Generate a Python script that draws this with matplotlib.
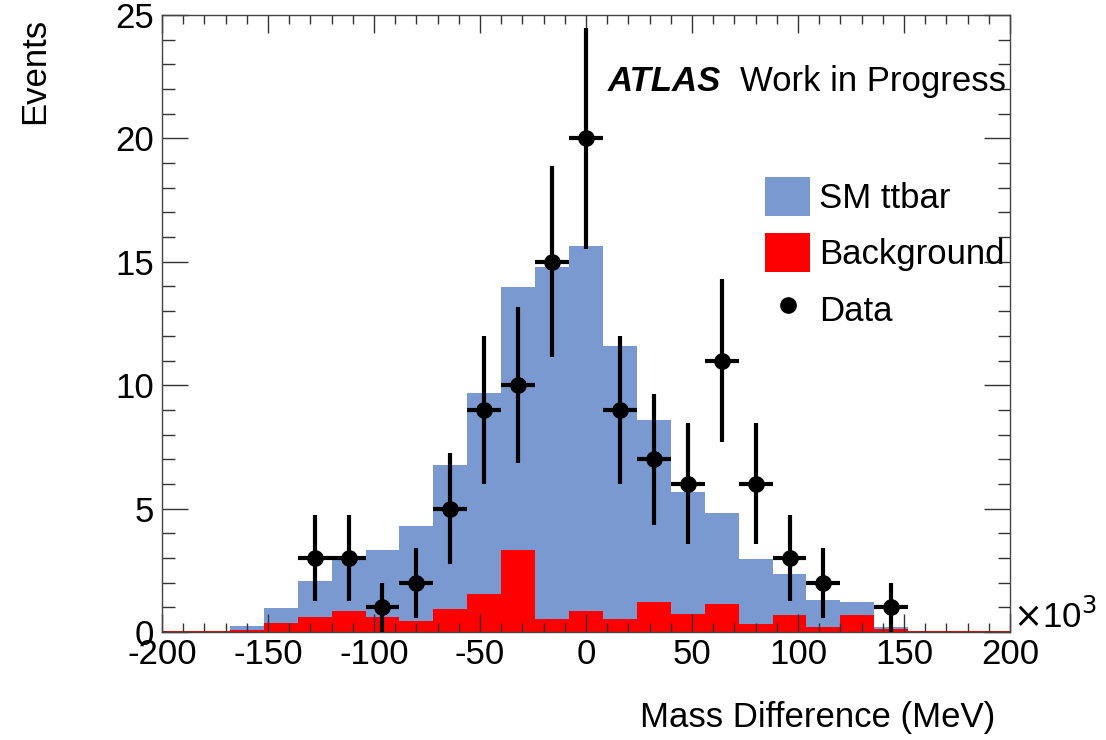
import numpy as np
import matplotlib.pyplot as plt
from matplotlib.patches import Patch
from matplotlib.lines import Line2D

plt.rcParams['font.family'] = ['Liberation Sans', 'DejaVu Sans']
plt.rcParams['axes.unicode_minus'] = False

# binning (x10^3 MeV), 25 bins of 16
edges = np.linspace(-200, 200, 26)

# stacked total (SM ttbar on top of background)
total = [0.0, 0.0, 0.26, 0.99, 2.06, 2.9, 3.31, 4.31, 6.76, 9.67, 13.99, 14.8, 15.62,
         11.57, 8.59, 5.67, 4.81, 2.97, 2.36, 1.28, 1.21, 0.22, 0.0, 0.0, 0.0]
background = [0.03, 0.03, 0.1, 0.38, 0.6, 0.86, 0.6, 0.46, 0.94, 1.54, 3.31, 0.53, 0.87,
              0.53, 1.21, 0.74, 1.14, 0.33, 0.67, 0.22, 0.67, 0.12, 0.03, 0.03, 0.03]

# data points
data_x = [-128, -112, -96, -80, -64, -48, -32, -16, 0, 16, 32, 48, 64, 80, 96, 112, 144]
data_y = [3, 3, 1, 2, 5, 9, 10, 15, 20, 9, 7, 6, 11, 6, 3, 2, 1]

blue = '#7b99d1'
red = '#ff0000'
fs = 25

fig = plt.figure(figsize=(11.06, 7.4), dpi=100)
ax = fig.add_axes([162/1106, 108/740, 848/1106, 617/740])

ax.stairs(total, edges, fill=True, color=blue, lw=0)
ax.stairs(background, edges, fill=True, color=red, lw=0)

dy = np.sqrt(data_y)
ax.errorbar(data_x, data_y, xerr=8, yerr=dy, fmt='o', color='black', ms=11,
            elinewidth=3, capsize=0, zorder=5)

ax.set_xlim(-200, 200)
ax.set_ylim(0, 25)
ax.set_xticks(np.arange(-200, 201, 50))
ax.set_xticks(np.arange(-200, 201, 10), minor=True)
ax.set_yticks(np.arange(0, 26, 5))
ax.set_yticks(np.arange(0, 26, 1), minor=True)
ax.tick_params(axis='both', which='both', direction='in', top=True, right=True,
               labelsize=fs, width=1.0, color='#333333')
ax.tick_params(axis='x', which='major', length=13, pad=4)
ax.tick_params(axis='x', which='minor', length=6.5)
ax.tick_params(axis='y', which='major', length=19, pad=6)
ax.tick_params(axis='y', which='minor', length=9)
for s in ax.spines.values():
    s.set_linewidth(1.0)
    s.set_color('#444444')

ax.text(1.004, -0.005, r'$\times$10$^3$', transform=ax.transAxes, fontsize=fs,
        ha='left', va='bottom')

fig.text(995/1106, 1 - 718/740, 'Mass Difference (MeV)', fontsize=fs,
         ha='right', va='center')
fig.text(35/1106, 1 - 18/740, 'Events', fontsize=fs, rotation=90,
         ha='center', va='top')

ax.text((608-162)/848, (632-82)/617, 'ATLAS', transform=ax.transAxes, fontsize=fs,
        fontweight='bold', fontstyle='italic', ha='left', va='center')
ax.text((740-162)/848, (632-82)/617, 'Work in Progress', transform=ax.transAxes,
        fontsize=fs, ha='left', va='center')

handles = [Patch(facecolor=blue, edgecolor='none'),
           Patch(facecolor=red, edgecolor='none'),
           Line2D([], [], marker='o', color='black', ls='none', ms=11)]
ax.legend(handles, ['SM ttbar', 'Background', 'Data'], loc='upper left',
          bbox_to_anchor=((765-162)/848, (632-177)/617), frameon=False, fontsize=fs,
          borderpad=0, borderaxespad=0,
          handlelength=1.3, handleheight=1.35, handletextpad=0.25, labelspacing=0.5)

fig.savefig('out.png', dpi=100)
